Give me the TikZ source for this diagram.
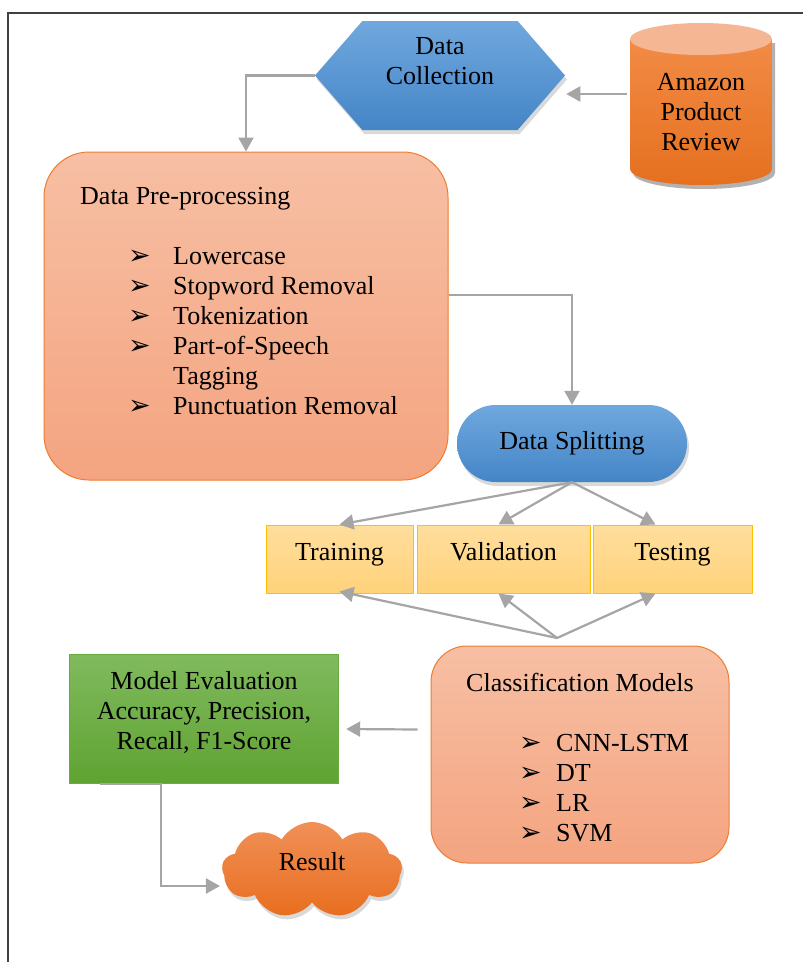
\documentclass[tikz,border=0pt]{standalone}
\usepackage{fontspec}
\setmainfont{Liberation Serif}
\newfontfamily\bulletfont{DejaVu Sans}
\usetikzlibrary{shapes.symbols,shapes.misc,shadows,arrows.meta}

\definecolor{blueTop}{HTML}{70A8DE}
\definecolor{blueBot}{HTML}{4485C7}
\definecolor{salTop}{HTML}{F7BFA4}
\definecolor{salBot}{HTML}{F4A480}
\definecolor{salLine}{HTML}{ED7D31}
\definecolor{yelTop}{HTML}{FFDE9C}
\definecolor{yelBot}{HTML}{FFD27B}
\definecolor{yelLine}{HTML}{FFC000}
\definecolor{grnTop}{HTML}{80BA5D}
\definecolor{grnBot}{HTML}{5FA332}
\definecolor{grnLine}{HTML}{6AAB40}
\definecolor{canTop}{HTML}{F28B45}
\definecolor{canBot}{HTML}{E5701F}
\definecolor{orgEnd}{HTML}{F5B793}
\definecolor{orgTop}{HTML}{F19058}
\definecolor{orgBot}{HTML}{E86E1E}
\definecolor{arrowgray}{HTML}{A5A5A5}
\definecolor{framegray}{HTML}{404040}

% bullet used in the two lists
\newcommand{\itm}[1][45pt]{\makebox[#1][l]{\bulletfont\fontsize{27}{30}\selectfont ➢}}

\begin{document}
\begin{tikzpicture}[x=1pt,y=-1pt,
    font=\fontsize{26}{30}\selectfont,
    arr/.style={draw=arrowgray,line width=2.2pt,-{Triangle[length=14pt,width=15pt]}},
    shadowed/.style={drop shadow={shadow xshift=2pt,shadow yshift=-4pt,opacity=.3}},
    salbox/.style={rectangle,top color=salTop,bottom color=salBot,draw=salLine,line width=1pt},
    yelbox/.style={rectangle,top color=yelTop,bottom color=yelBot,draw=yelLine,line width=1pt,
                   minimum height=68pt,text height=14pt,text depth=12pt},
    txt/.style={inner sep=0pt}]

  \useasboundingbox (0,0) rectangle (803,962);
  \draw[framegray,line width=2pt] (8,962) -- (8,13) -- (803,13);

  % the product review store, drawn as a can
  \fill[black,opacity=.3] (633,43) -- (633,173) arc[start angle=180,end angle=0,x radius=71,y radius=16] -- (775,43) -- cycle;
  \shade[top color=canTop,bottom color=canBot] (630,39) -- (630,169) arc[start angle=180,end angle=0,x radius=71,y radius=16] -- (772,39) -- cycle;
  \fill[orgEnd] (701,39) ellipse [x radius=71,y radius=16];

  \begin{scope}[every node/.style={inner sep=0pt}]
    \node[signal,signal to=east and west,signal pointer angle=98,
          minimum width=250pt,minimum height=109pt,
          top color=blueTop,bottom color=blueBot,shadowed] (dc) at (440,75.5) {};
    \node[align=center,minimum width=142pt] (amz) at (701,112) {Amazon\\Product\\Review};
    \node[salbox,rounded corners=45pt,minimum width=404pt,minimum height=328pt] (pre) at (246,316) {};
    \node[rounded rectangle,minimum width=230pt,minimum height=77pt,
          top color=blueTop,bottom color=blueBot,shadowed] (split) at (572,443.5) {Data Splitting};
    \node[yelbox,minimum width=147pt] (train) at (339.5,559) {Training};
    \node[yelbox,minimum width=173pt] (valid) at (503.5,559) {Validation};
    \node[yelbox,minimum width=159pt] (test)  at (672.5,559) {Testing};
    \node[salbox,rounded corners=36pt,minimum width=298pt,minimum height=217pt] (cls) at (580,754.5) {};
    \node[rectangle,top color=grnTop,bottom color=grnBot,draw=grnLine,
          minimum width=269pt,minimum height=129pt] (eval) at (204,719) {};
    \node[cloud,cloud puffs=9,cloud puff arc=120,aspect=1.9,
          minimum width=180pt,minimum height=96pt,text height=12pt,text depth=12pt,
          top color=orgTop,bottom color=orgBot,shadowed] (res) at (312,870) {Result};
  \end{scope}

  % texts that sit off the centre of their shapes
  \node[txt,align=center] (dctxt) at ([yshift=14pt]dc.center) {Data\\Collection};
  \node[txt,align=left,anchor=north west] (pretxt) at (80,187) {Data Pre-processing\\[30pt]
    \hspace*{48pt}\itm Lowercase\\
    \hspace*{48pt}\itm Stopword Removal\\
    \hspace*{48pt}\itm Tokenization\\
    \hspace*{48pt}\itm Part-of-Speech\\
    \hspace*{93pt}Tagging\\
    \hspace*{48pt}\itm Punctuation Removal};
  \node[txt,align=left,anchor=north west] (clstxt) at (466,673) {Classification Models\\[30pt]
    \hspace*{53pt}\itm[37pt]CNN-LSTM\\
    \hspace*{53pt}\itm[37pt]DT\\
    \hspace*{53pt}\itm[37pt]LR\\
    \hspace*{53pt}\itm[37pt]SVM};
  \node[txt,align=center] (evaltxt) at (204,712) {Model Evaluation\\Accuracy, Precision,\\Recall, F1-Score};

  \coordinate (fork) at (557,638);

  \draw[arr] ([xshift=-3pt,yshift=18pt]amz.west) -- ([xshift=1pt,yshift=-18.5pt]dc.east);
  \draw[arr] (dc.west) -| (pre.north);
  \draw[arr] ([yshift=21pt]pre.east) -| (split.north);

  \begin{scope}[every edge/.style={arr}]
    \path (split.south) edge (train.north)
                        edge ([xshift=-5pt]valid.north)
                        edge ([xshift=-17pt]test.north);
    \path (fork) edge ([yshift=2pt]train.south)
                 edge ([xshift=-5pt]valid.south)
                 edge ([xshift=-17pt]test.south);
    \path ([xshift=-13pt,yshift=25pt]cls.west) edge ([xshift=7.5pt,yshift=-10pt]eval.east);
  \end{scope}

  \draw[arr] ([xshift=-104pt]eval.south) -- ([xshift=-43pt]eval.south) |- ([xshift=-2pt,yshift=-16pt]res.west);

\end{tikzpicture}
\end{document}
